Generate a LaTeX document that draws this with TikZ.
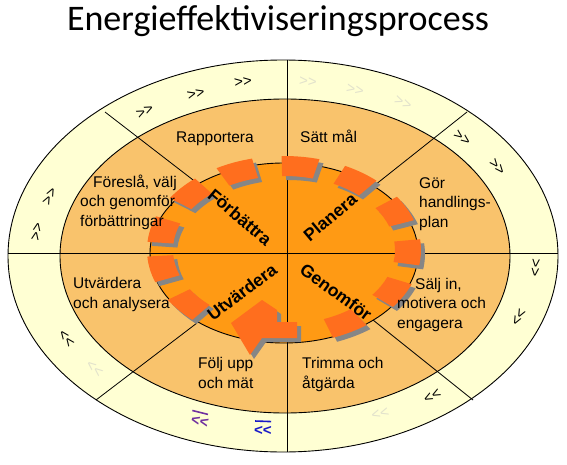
\documentclass[tikz,border=0pt]{standalone}
\usepackage{fontspec}
\setmainfont{Liberation Sans}
\newfontfamily\titlefont{Carlito}
\newfontfamily\chevfont{Liberation Sans}[Ligatures=TeXOff]
\usetikzlibrary{calc}
\definecolor{ringY}{HTML}{FFFFD3}
\definecolor{midO}{HTML}{F9C36C}
\definecolor{inO}{HTML}{FF9A14}
\definecolor{segO}{HTML}{FF6E1E}
\definecolor{segG}{HTML}{868686}
\definecolor{faintC}{HTML}{E2E2CC}
\definecolor{chevP}{HTML}{7030A0}
\definecolor{chevB}{HTML}{1A1AC8}
\newcommand\chv{>\kern0pt>}
\tikzset{
  outl/.style={draw=black, line width=0.9pt},
  divline/.style={draw=black, line width=0.8pt},
  lbl/.style={inner sep=0pt, font=\fontsize{15.5}{19.5}\selectfont, align=left},
  phase/.style={inner sep=0pt, font=\fontsize{17.5}{18}\bfseries\selectfont},
  chev/.style={inner sep=0pt, font=\chevfont\fontsize{15}{18}\selectfont},
  faintchev/.style={chev, text=faintC},
}
\begin{document}
\begin{tikzpicture}[x=1pt,y=-1pt]
\useasboundingbox (0,0) rectangle (567,465);
\fill[white] (0,0) rectangle (567,465);

% centres
\coordinate (oc) at (283,256);
\coordinate (mc) at (285,256);
\coordinate (ic) at (284,253);

% ellipses
\path[outl, fill=ringY] (oc) ellipse [x radius=275, y radius=196];
\path[outl, fill=midO] (mc) ellipse [x radius=225, y radius=157];
\path[outl, fill=inO] (ic) ellipse [x radius=134, y radius=90];

% dividing lines
\coordinate (vt) at (287,60);
\coordinate (vb) at (287,452);
\coordinate (hl) at (8,253);
\coordinate (hr) at (558,253);
\coordinate (d1o) at (105,112);
\coordinate (d1i) at (197,183);
\coordinate (d2o) at (467,112);
\coordinate (d2i) at (375,185);
\coordinate (d3o) at (96,400);
\coordinate (d3i) at (197,323);
\coordinate (d4o) at (473,400);
\coordinate (d4i) at (373,320);
\draw[divline] (vt) -- (vb);
\draw[divline] (hl) -- (hr);
\draw[divline] (d1o) -- (d1i);
\draw[divline] (d2o) -- (d2i);
\draw[divline] (d3o) -- (d3i);
\draw[divline] (d4o) -- (d4i);

% dashed circular arrow: shadows
\foreach \t in {140,168,193,221.5,248.5,277,304.5,333.5,361.4,389.3,421}{
  \begin{scope}[shift={(288,254)}]
    \fill[segG] (\t-8:137 and 94) arc[start angle=\t-8, end angle=\t+8, x radius=137, y radius=94]
      -- (\t+8:111 and 74) arc[start angle=\t+8, end angle=\t-8, x radius=111, y radius=74] -- cycle;
  \end{scope}
}
\fill[segG] (235,327) -- (266,304) -- (281,314) -- (281,326) -- (301,326) -- (301,342) -- (266,342) -- (254,359) -- cycle;
% segments
\foreach \t in {140,168,193,221.5,248.5,277,304.5,333.5,361.4,389.3,421}{
  \begin{scope}[shift={(284,250)}]
    \fill[segO] (\t-8:137 and 94) arc[start angle=\t-8, end angle=\t+8, x radius=137, y radius=94]
      -- (\t+8:111 and 74) arc[start angle=\t+8, end angle=\t-8, x radius=111, y radius=74] -- cycle;
  \end{scope}
}
\fill[segO] (231,323) -- (262,300) -- (277,310) -- (277,322) -- (297,322) -- (297,338) -- (262,338) -- (250,355) -- cycle;

% title
\node[inner sep=0pt, anchor=base, font=\titlefont\fontsize{36}{40}\selectfont] (title) at (278,31) {Energieffektiviseringsprocess};

% step labels (base = baseline of last line)
\node[lbl, anchor=base] (rapp) at (215,143) {Rapportera};
\node[lbl, anchor=base west] (satt) at (300,143) {Sätt mål};
\node[lbl, anchor=base west] (fore) at (80,226) {\hspace*{13pt}Föreslå, välj\\och genomför\\förbättringar};
\node[lbl, anchor=base west] (gor) at (419,227) {Gör\\handlings-\\plan};
\node[lbl, anchor=base west] (utv) at (73,308) {Utvärdera\\och analysera};
\node[lbl, anchor=base west] (salj) at (397,328) {\hspace*{18pt}Sälj in,\\motivera och\\engagera};
\node[lbl, anchor=base west] (folj) at (198,388) {Följ upp\\och mät};
\node[lbl, anchor=base west] (trim) at (302,388) {Trimma och\\åtgärda};

% phase labels
\node[phase, rotate=-40] (forb) at (240,217) {Förbättra};
\node[phase, rotate=40] (plan) at (330,217) {Planera};
\node[phase, rotate=37] (utvp) at (242,292) {Utvärdera};
\node[phase, rotate=-36] (genp) at (336,292) {Genomför};

% chevrons in outer ring
\node[chev, rotate=26] (c1) at (145,112) {\chv};
\node[chev, rotate=15] (c2) at (196,94) {\chv};
\node[chev, rotate=7] (c3) at (243,82) {\chv};
\node[faintchev, rotate=-4] (c4) at (308,82) {\chv};
\node[faintchev, rotate=-12] (c5) at (355,90) {\chv};
\node[faintchev, rotate=-21] (c6) at (403,103) {\chv};
\node[chev, rotate=-37] (c7) at (462,138) {\chv};
\node[chev, rotate=-50] (c8) at (497,167) {\chv};
\node[chev, rotate=-95] (c9) at (535,268) {\chv};
\node[chev, rotate=-118] (c10) at (518,317) {\chv};
\node[chev, rotate=-152] (c11) at (432,395) {\chv};
\node[faintchev, rotate=-163] (c12) at (380,413) {\chv};
\node[chev, text=chevB, rotate=178, font=\chevfont\bfseries\fontsize{15}{18}\selectfont] (c13) at (263,430) {\chv};
\draw[chevB, line width=1.6pt] ($(c13.south west)!0.05!(c13.south east)+(0,-4)$) -- ($(c13.south east)!0.05!(c13.south west)+(0,-4)$);
\node[chev, text=chevP, rotate=166, font=\chevfont\bfseries\fontsize{15}{18}\selectfont] (c14) at (200,421) {\chv};
\draw[chevP, line width=1.6pt] ($(c14.south west)!0.05!(c14.south east)+(-1,-4)$) -- ($(c14.south east)!0.05!(c14.south west)+(-1,-4)$);
\node[faintchev, rotate=140] (c15) at (95,368) {\chv};
\node[chev, rotate=127] (c16) at (67,338) {\chv};
\node[chev, rotate=79] (c17) at (37,232) {\chv};
\node[chev, rotate=63] (c18) at (50,197) {\chv};
\end{tikzpicture}
\end{document}
